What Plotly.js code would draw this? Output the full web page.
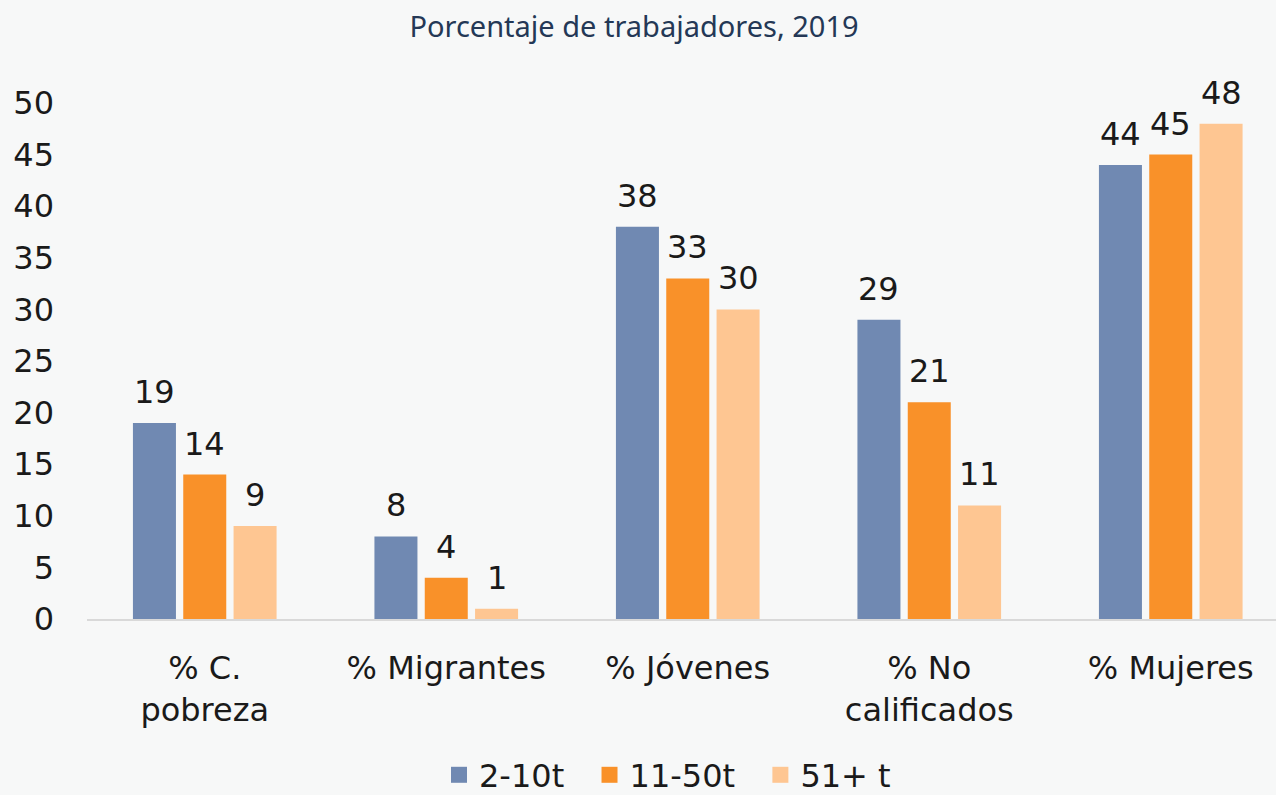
<!DOCTYPE html>
<html>
<head>
<meta charset="utf-8">
<script src="https://cdn.plot.ly/plotly-3.0.1.min.js"></script>
<style>
html,body{margin:0;padding:0;background:#F7F8F8;}
#chart{width:1276px;height:795px;}
</style>
</head>
<body>
<div id="chart"></div>
<script>
const categories = ["% C.<br>pobreza", "% Migrantes", "% Jóvenes", "% No<br>calificados", "% Mujeres"];
const seriesNames = ["2-10t", "11-50t", "51+ t"];
const s1 = [19, 8, 38, 29, 44];
const s2 = [14, 4, 33, 21, 45];
const s3 = [9, 1, 30, 11, 48];
const yTicks = [0, 5, 10, 15, 20, 25, 30, 35, 40, 45, 50];

const colors = ["#7089B2", "#F99129", "#FEC692"];
const series = [s1, s2, s3];
const FONT = "DejaVu Sans, sans-serif";
const bargap = 0.375;

const traces = series.map((vals, k) => ({
  type: "bar",
  name: seriesNames[k],
  x: categories,
  y: vals,
  marker: {color: colors[k]},
  showlegend: false,
  hoverinfo: "none"
}));

// legend entries with larger square swatches (trailing no-break spaces widen the gap between entries)
series.forEach((vals, k) => {
  traces.push({
    type: "scatter",
    mode: "markers",
    name: seriesNames[k] + "\u00A0\u00A0",
    x: [null],
    y: [null],
    marker: {symbol: "square", size: 20, color: colors[k]},
    showlegend: true,
    hoverinfo: "none"
  });
});

const slot = (1 - bargap) / series.length;
const annotations = [];
series.forEach((vals, k) => {
  vals.forEach((v, i) => {
    annotations.push({
      x: i + (k - (series.length - 1) / 2) * slot,
      y: v,
      xref: "x", yref: "y",
      text: String(v),
      showarrow: false,
      yanchor: "bottom",
      yshift: 10,
      font: {family: FONT, size: 32, color: "#1a1a1a"}
    });
  });
});

const layout = {
  width: 1276,
  height: 795,
  paper_bgcolor: "#F7F8F8",
  plot_bgcolor: "rgba(0,0,0,0)",
  margin: {l: 87, r: 0, t: 103, b: 176},
  barmode: "group",
  bargap: bargap,
  bargroupgap: 0.145,
  title: {
    text: "Porcentaje de trabajadores, 2019",
    font: {family: "Noto Sans, sans-serif", size: 29, color: "#243856"},
    x: 634 / 1276, xref: "container", xanchor: "center",
    y: 1 - 27 / 795, yref: "container", yanchor: "middle"
  },
  xaxis: {
    type: "category",
    range: [-0.4876, -0.4876 + 1189 / 241.5],
    showline: true,
    linecolor: "#D9D9D9",
    linewidth: 2,
    ticks: "",
    showgrid: false,
    zeroline: false,
    ticklabelstandoff: 20,
    tickfont: {family: FONT, size: 32, color: "#1a1a1a"}
  },
  yaxis: {
    range: [0, 50],
    tickvals: yTicks,
    ticktext: yTicks.map(String),
    showgrid: false,
    zeroline: false,
    showline: false,
    ticks: "",
    ticklabelstandoff: 32,
    tickfont: {family: FONT, size: 32, color: "#1a1a1a"}
  },
  showlegend: true,
  legend: {
    orientation: "h",
    xref: "container", yref: "container",
    x: 439 / 1276, xanchor: "left",
    y: 20 / 795, yanchor: "middle",
    font: {family: FONT, size: 32, color: "#1a1a1a"},
    bgcolor: "rgba(0,0,0,0)",
    itemwidth: 30,
    traceorder: "normal"
  },
  annotations: annotations
};

Plotly.newPlot("chart", traces, layout, {displayModeBar: false, staticPlot: true});
</script>
</body>
</html>
